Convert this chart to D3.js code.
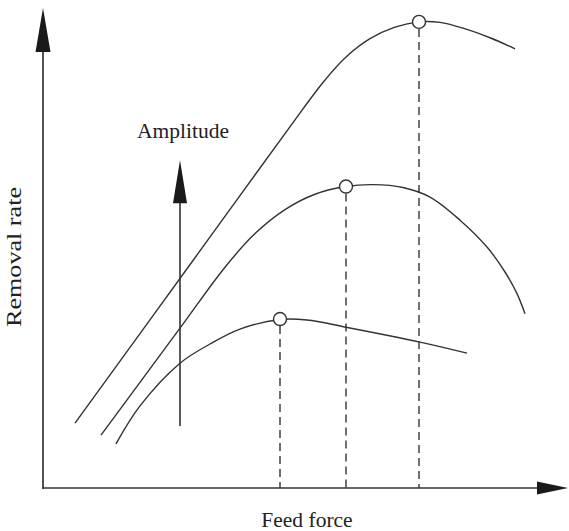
<!DOCTYPE html>
<html>
<head>
<meta charset="utf-8">
<script src="https://cdn.jsdelivr.net/npm/d3@7"></script>
<style>
  html, body { margin: 0; padding: 0; background: #fff; }
  svg { display: block; }
  text { font-family: "Liberation Serif", "Times New Roman", serif; fill: #222; }
</style>
</head>
<body>
<svg id="chart" width="569" height="531"></svg>
<script>
// ---- Data (abstract units: feed force 0..105, removal rate 0..100) ----
const curveLow = [
  [14.6, 9.2], [19.4, 17.1], [27.4, 26.0], [33.4, 30.0], [39.4, 33.1],
  [47.4, 35.1], [52.8, 35.0], [60.6, 33.5], [75.4, 30.4], [84.8, 28.1]
];
const curveMid = [
  [11.6, 11.0], [27.4, 33.3], [36.4, 46.0], [42.4, 53.0], [48.4, 58.0],
  [54.4, 61.2], [60.6, 62.8], [66.0, 63.2], [72.0, 62.6], [77.4, 60.6],
  [83.4, 55.8], [88.8, 50.2], [92.4, 45.0], [94.8, 40.5], [96.4, 36.3]
];
const curveHigh = [
  [6.4, 13.5], [30.0, 47.4], [52.0, 79.0], [56.4, 85.0], [60.4, 89.6],
  [65.4, 93.6], [70.4, 96.0], [75.2, 97.1], [79.4, 97.0], [84.0, 95.8],
  [89.4, 93.8], [94.4, 91.5]
];
const peakX = [47.4, 60.6, 75.2];
const peakY = [35.2, 62.8, 97.1];
const amplitudeX = 27.4;
const amplitudeY = [12.9, 68.3];
const xAxisMax = 105;
const yAxisMax = 100;
const labels = { x: "Feed force", y: "Removal rate", arrow: "Amplitude" };

// ---- Scales ----
const x = d3.scaleLinear().domain([0, 100]).range([43, 543]);
const y = d3.scaleLinear().domain([0, 100]).range([488, 8]);

const svg = d3.select("#chart");
const ink = "#333";

const line = d3.line().x(d => x(d[0])).y(d => y(d[1])).curve(d3.curveCatmullRom.alpha(0.5));

// ---- Axes ----
svg.append("line")
  .attr("x1", x(0)).attr("y1", y(0))
  .attr("x2", x(xAxisMax) - 20).attr("y2", y(0))
  .attr("stroke", ink).attr("stroke-width", 1.7);
svg.append("line")
  .attr("x1", x(0)).attr("y1", y(0) + 1)
  .attr("x2", x(0)).attr("y2", y(yAxisMax) + 20)
  .attr("stroke", ink).attr("stroke-width", 1.7);

// arrowheads
svg.append("path")
  .attr("d", `M${x(xAxisMax)},${y(0)} L${x(xAxisMax) - 31},${y(0) - 6.5} L${x(xAxisMax) - 31},${y(0) + 6.5} Z`)
  .attr("fill", "#1a1a1a");
svg.append("path")
  .attr("d", `M${x(0)},${y(yAxisMax)} L${x(0) - 7.5},${y(yAxisMax) + 44} L${x(0) + 7.5},${y(yAxisMax) + 44} Z`)
  .attr("fill", "#1a1a1a");

// ---- Dashed guides ----
svg.selectAll(".guide").data(peakX.map((v, i) => [v, peakY[i]])).enter()
  .append("line").attr("class", "guide")
  .attr("x1", d => x(d[0])).attr("x2", d => x(d[0]))
  .attr("y1", d => y(d[1]) + 7).attr("y2", y(0))
  .attr("stroke", ink).attr("stroke-width", 1.4)
  .attr("stroke-dasharray", "8,5");

// ---- Curves ----
[curveLow, curveMid, curveHigh].forEach(c => {
  svg.append("path").datum(c)
    .attr("d", line)
    .attr("fill", "none")
    .attr("stroke", ink)
    .attr("stroke-width", 1.4);
});

// ---- Peak markers ----
svg.selectAll(".peak").data(peakX.map((v, i) => [v, peakY[i]])).enter()
  .append("circle").attr("class", "peak")
  .attr("cx", d => x(d[0])).attr("cy", d => y(d[1]))
  .attr("r", 6.5)
  .attr("fill", "#fff").attr("stroke", ink).attr("stroke-width", 1.4);

// ---- Amplitude arrow ----
svg.append("line")
  .attr("x1", x(amplitudeX)).attr("x2", x(amplitudeX))
  .attr("y1", y(amplitudeY[0])).attr("y2", y(amplitudeY[1]) + 30)
  .attr("stroke", ink).attr("stroke-width", 1.6);
svg.append("path")
  .attr("d", `M${x(amplitudeX)},${y(amplitudeY[1])} L${x(amplitudeX) - 7},${y(amplitudeY[1]) + 43} L${x(amplitudeX) + 7},${y(amplitudeY[1]) + 43} Z`)
  .attr("fill", "#1a1a1a");
svg.append("text")
  .attr("x", x(amplitudeX) + 3).attr("y", y(amplitudeY[1]) - 22)
  .attr("text-anchor", "middle")
  .attr("font-size", 21.5)
  .text(labels.arrow);

// ---- Axis titles ----
svg.append("text")
  .attr("x", 307).attr("y", 527)
  .attr("text-anchor", "middle")
  .attr("font-size", 21.5)
  .text(labels.x);
svg.append("text")
  .attr("transform", "translate(21,257) rotate(-90)")
  .attr("text-anchor", "middle")
  .attr("font-size", 21.5)
  .attr("textLength", 140)
  .attr("lengthAdjust", "spacingAndGlyphs")
  .text(labels.y);
</script>
</body>
</html>
